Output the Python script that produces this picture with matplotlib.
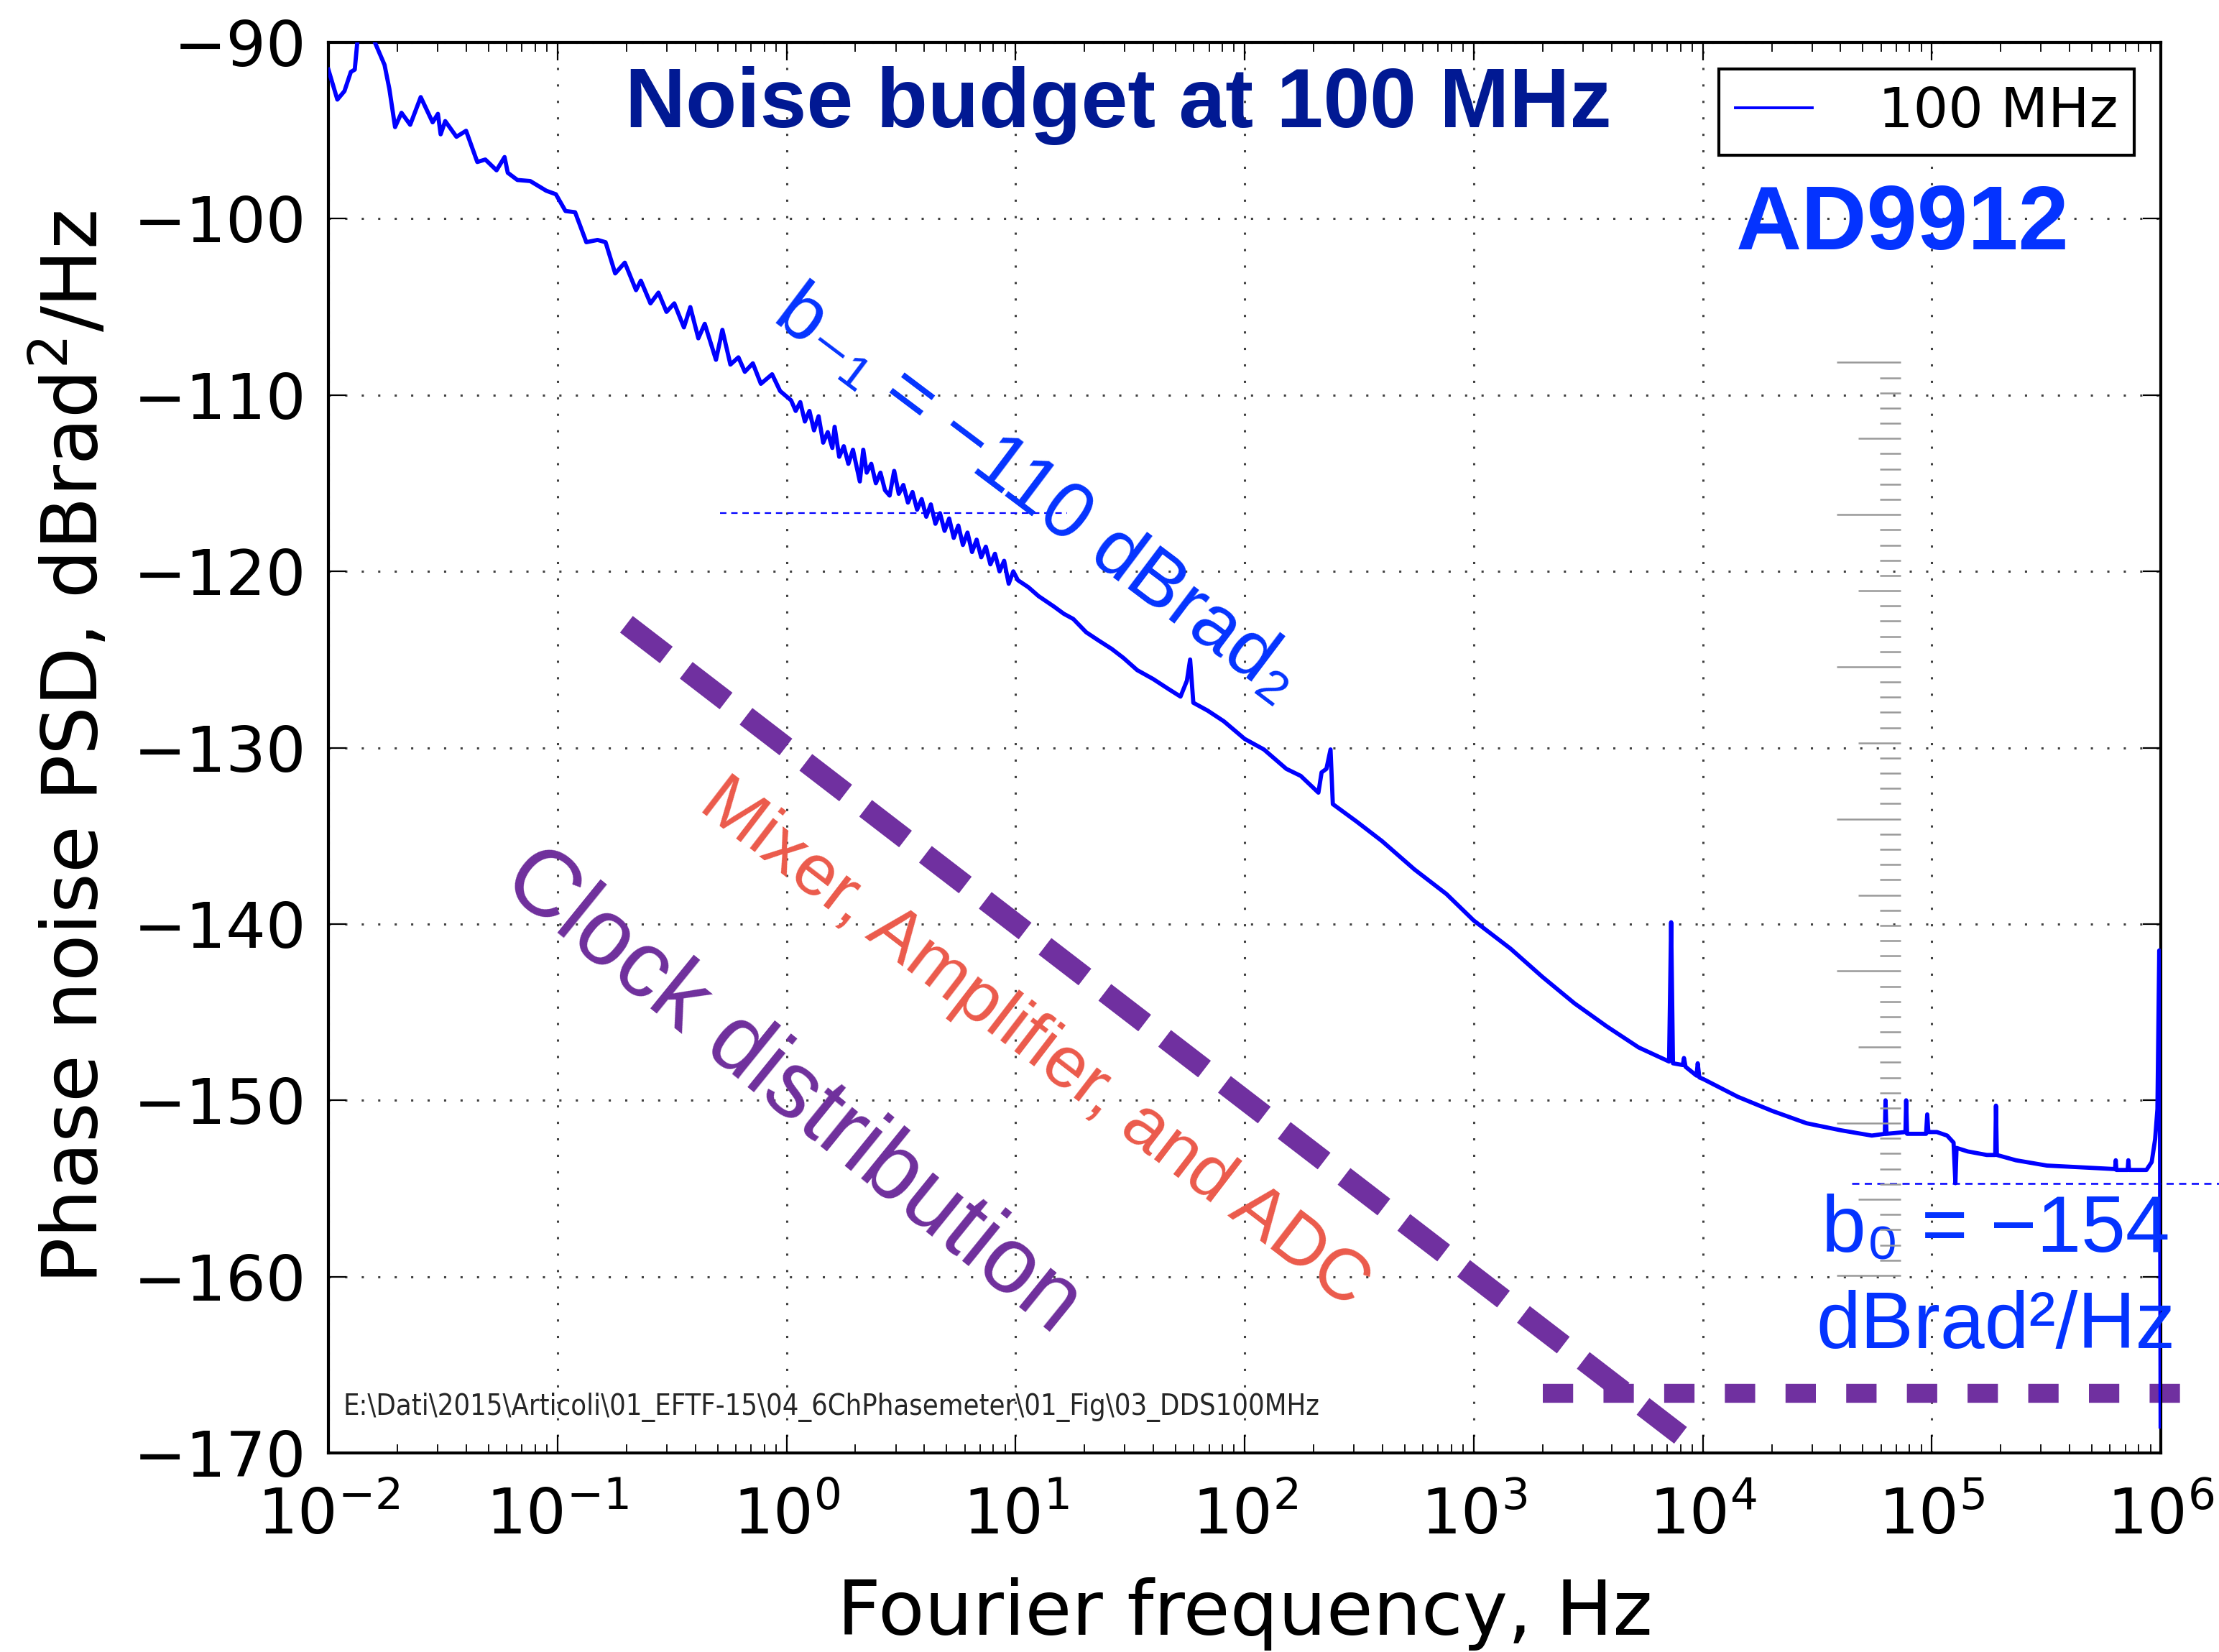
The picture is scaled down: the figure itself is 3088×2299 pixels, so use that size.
import numpy as np
import matplotlib.pyplot as plt
from matplotlib.ticker import LogLocator, NullFormatter, MultipleLocator

# measured phase noise PSD of the 100 MHz output
# (log10 of Fourier frequency in Hz, PSD in dBrad^2/Hz), read off the plot
log_freq = [
    -2.000, -1.961, -1.930, -1.902, -1.885, -1.874, -1.860, -1.830, -1.805, -1.797,
    -1.755, -1.734, -1.709, -1.681, -1.643, -1.597, -1.545, -1.522, -1.510, -1.490,
    -1.441, -1.399, -1.350, -1.315, -1.266, -1.231, -1.217, -1.175, -1.119, -1.049,
    -1.007, -0.965, -0.923, -0.874, -0.825, -0.790, -0.748, -0.706, -0.657, -0.636,
    -0.594, -0.559, -0.524, -0.490, -0.448, -0.420, -0.385, -0.357, -0.308, -0.280,
    -0.245, -0.210, -0.182, -0.147, -0.112, -0.063, -0.028,
    0.02, 0.04, 0.06, 0.08, 0.10, 0.12, 0.14, 0.16, 0.18, 0.20,
    0.21, 0.23, 0.25, 0.27, 0.29, 0.31, 0.32, 0.335, 0.35, 0.37,
    0.39, 0.41, 0.43, 0.45, 0.47, 0.49, 0.51, 0.53, 0.55, 0.57,
    0.59, 0.61, 0.63, 0.65, 0.67, 0.69, 0.71, 0.73, 0.75, 0.77,
    0.79, 0.81, 0.83, 0.85, 0.87, 0.89, 0.91, 0.93, 0.95, 0.97,
    0.99, 1.01,
    1.056, 1.10, 1.168, 1.21, 1.252, 1.308, 1.36, 1.42, 1.47, 1.531,
    1.60, 1.671, 1.72, 1.748, 1.762, 1.776, 1.839, 1.909, 2.0,
    2.084, 2.182, 2.245, 2.322, 2.336, 2.357, 2.375, 2.385, 2.49, 2.60,
    2.741, 2.881, 3.0, 3.161, 3.30, 3.44, 3.58, 3.72, 3.853, 3.862,
    3.870, 3.913, 3.918, 3.925, 3.973, 3.978, 3.985, 4.003,
    4.153, 4.303, 4.453, 4.603, 4.738, 4.795, 4.798, 4.802, 4.885, 4.888,
    4.892, 4.975, 4.980, 4.985, 5.022, 5.067, 5.095, 5.103, 5.108, 5.157,
    5.240, 5.277, 5.280, 5.284, 5.367, 5.502, 5.652, 5.800, 5.803, 5.806,
    5.855, 5.858, 5.861, 5.937, 5.960, 5.975, 5.985, 5.993, 5.996, 5.999,
]
psd_db = [
    -91.54, -93.24, -92.76, -91.67, -91.54, -90.0, -89.0, -88.6, -89.3, -90.0,
    -91.27, -92.63, -94.80, -93.99, -94.67, -93.10, -94.53, -94.05, -95.21, -94.46,
    -95.35, -95.01, -96.78, -96.64, -97.25, -96.50, -97.39, -97.80, -97.86, -98.41,
    -98.61, -99.56, -99.63, -101.33, -101.20, -101.33, -103.10, -102.49, -104.05, -103.51,
    -104.80, -104.19, -105.28, -104.80, -106.16, -105.01, -106.78, -105.96, -108.00, -106.30,
    -108.27, -107.86, -108.68, -108.20, -109.36, -108.82, -109.77,
    -110.3, -110.9, -110.4, -111.5, -110.9, -112.0, -111.2, -112.7, -112.1, -113.0,
    -111.8, -113.5, -112.9, -113.9, -113.1, -114.3, -114.9, -113.1, -114.4, -113.9,
    -115.0, -114.4, -115.4, -115.7, -114.3, -115.6, -115.1, -116.1, -115.5, -116.5,
    -115.9, -116.9, -116.2, -117.3, -116.7, -117.7, -117.0, -118.1, -117.4, -118.5,
    -117.8, -118.9, -118.2, -119.2, -118.6, -119.6, -119.0, -120.0, -119.4, -120.7,
    -120.0, -120.5,
    -120.9, -121.4, -122.0, -122.4, -122.7, -123.45, -123.9, -124.4, -124.9, -125.6,
    -126.1, -126.7, -127.1, -126.2, -125.0, -127.45, -127.9, -128.5, -129.5,
    -130.1, -131.2, -131.6, -132.55, -131.4, -131.2, -130.1, -133.2, -134.2, -135.3,
    -136.9, -138.3, -139.8, -141.4, -143.0, -144.5, -145.8, -147.0, -147.8, -139.9,
    -147.9, -148.0, -147.6, -148.1, -148.6, -147.9, -148.7, -148.8,
    -149.8, -150.6, -151.3, -151.7, -152.0, -151.9, -150.0, -151.9, -151.8, -150.0,
    -151.9, -151.9, -150.8, -151.8, -151.8, -152.0, -152.4, -154.7, -152.7, -152.9,
    -153.1, -153.1, -150.3, -153.1, -153.4, -153.7, -153.8, -153.9, -153.4, -153.95,
    -153.95, -153.4, -153.95, -153.95, -153.5, -152.2, -150.5, -141.5, -150.0, -168.5,
]

# noise budget asymptotes (frequency Hz, dBrad^2/Hz)
mixer_freq = [0.2, 8000.0]
mixer_db = [-123.0, -169.0]
clock_freq = [2000.0, 1.4e6]
clock_db = [-166.6, -166.6]

# b_-1 and b_0 guide lines
b_m1_freq = [10 ** -0.29, 10 ** 1.224]
b_m1_db = [-116.7, -116.7]
b_0_freq = [10 ** 4.652, 10 ** 6.3]
b_0_db = [-154.7, -154.7]

# ruler overlay left on the slide
ruler_top = -108.15
ruler_minor = 0.863
ruler_count = 60

freq = 10 ** np.array(log_freq)
psd = np.array(psd_db)

plt.rcParams['font.family'] = ['DejaVu Sans']
plt.rcParams['mathtext.fontset'] = 'dejavusans'

fig = plt.figure(figsize=(30.88, 22.99), dpi=100)
ax = fig.add_axes([0.148, 0.1205, 0.8258, 0.8538])

ax.semilogx(freq, psd, color='#0000ff', lw=4.2, label='100 MHz', zorder=3)

ax.set_xlim(1e-2, 1e6)
ax.set_ylim(-170, -90)
ax.yaxis.set_major_locator(MultipleLocator(10))
ax.xaxis.set_major_locator(LogLocator(base=10, numticks=20))
ax.xaxis.set_minor_locator(LogLocator(base=10, subs=np.arange(2, 10), numticks=20))
ax.xaxis.set_minor_formatter(NullFormatter())

ax.tick_params(which='both', direction='in', top=True, right=True, labelsize=63)
ax.tick_params(which='major', length=18, width=1.6)
ax.tick_params(which='minor', length=9, width=1.3)
ax.tick_params(axis='y', pad=22)
ax.tick_params(axis='x', pad=34)
for sp in ax.spines.values():
    sp.set_linewidth(3)

ax.grid(True, which='major', color='k', alpha=0.75, lw=2.2, linestyle=(0, (1, 6.5)))

ax.set_xlabel('Fourier frequency, Hz', fontsize=76, labelpad=30)
ax.set_ylabel('Phase noise PSD, dBrad$^2$/Hz', fontsize=77, labelpad=20)

# noise budget lines
ax.plot(mixer_freq, mixer_db, color='#7030a0', lw=21, dashes=(2.4, 1.2),
        solid_capstyle='butt', dash_capstyle='butt', zorder=2)
ax.plot(clock_freq, clock_db, color='#7030a0', lw=19, dashes=(1.6, 1.6),
        dash_capstyle='butt', zorder=2, clip_on=False)
ax.plot(b_m1_freq, b_m1_db, color='#0000ff', lw=1.6, dashes=(4, 3), zorder=3)
ax.plot(b_0_freq, b_0_db, color='#0000ff', lw=1.8, dashes=(4, 3), zorder=3, clip_on=False)

# ruler ticks
ruler_y = ruler_top - ruler_minor * np.arange(ruler_count + 1)
ruler_left = np.where(np.arange(ruler_count + 1) % 10 == 0, 10 ** 4.585,
                      np.where(np.arange(ruler_count + 1) % 5 == 0, 10 ** 4.678, 10 ** 4.774))
ax.hlines(ruler_y, ruler_left, 10 ** 4.865, color='#999999', lw=1.8, zorder=4)

sans = ['Liberation Sans', 'DejaVu Sans']
ax.text(0.431, 0.955, 'Noise budget at 100 MHz', transform=ax.transAxes,
        fontsize=84, fontweight='bold', color='#011993', family=sans,
        ha='center', va='center')
ax.text(0.859, 0.870, 'AD9912', transform=ax.transAxes, fontsize=91,
        fontweight='bold', color='#0433ff', family=sans, ha='center', va='center')
ax.text(0.387, 0.679, 'b\u208b\u2081 = \u2212110 dBrad\u2082', transform=ax.transAxes,
        fontsize=79, color='#0433ff', family=sans, rotation=-37,
        rotation_mode='anchor', ha='center', va='center')
ax.text(0.385, 0.290, 'Mixer, Amplifier, and ADC', transform=ax.transAxes,
        fontsize=73, color='#eb5a4b', family=sans, rotation=-37.5,
        rotation_mode='anchor', ha='center', va='center')
ax.text(0.253, 0.256, 'Clock distribution', transform=ax.transAxes,
        fontsize=94, color='#6f2f9c', family=sans, rotation=-39,
        rotation_mode='anchor', ha='center', va='center')
ax.text(0.910, 0.1575, 'b\u2080 = \u2212154', transform=ax.transAxes,
        fontsize=80, color='#0433ff', family=sans, ha='center', va='center',
        clip_on=False)
ax.text(0.910, 0.0893, 'dBrad\u00b2/Hz', transform=ax.transAxes,
        fontsize=80, color='#0433ff', family=sans, ha='center', va='center',
        clip_on=False)

ax.text(0.008, 0.027, r'E:\Dati\2015\Articoli\01_EFTF-15\04_6ChPhasemeter\01_Fig\03_DDS100MHz',
        transform=ax.transAxes, fontsize=28.5, fontstretch='condensed', color='0.15',
        ha='left', va='baseline')

leg = ax.legend(loc='upper right', fontsize=55, fancybox=False, edgecolor='k',
                framealpha=1, handlelength=1.4, handletextpad=1.2, borderpad=0.3,
                borderaxespad=0.48)
leg.get_frame().set_linewidth(3)
for line in leg.get_lines():
    line.set_linewidth(2.8)

fig.savefig('out.png', dpi=100)
